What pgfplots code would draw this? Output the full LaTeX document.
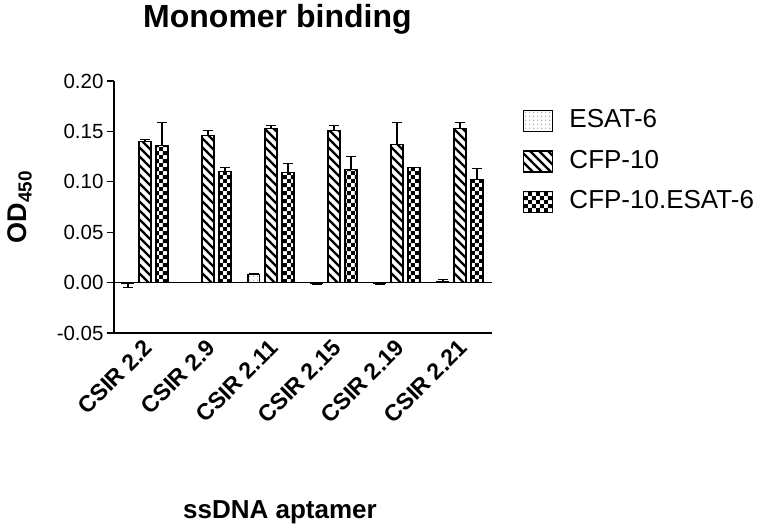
\documentclass[border=0pt]{standalone}
\usepackage{pgfplots}
\pgfplotsset{compat=1.18}
\usepackage{fontspec}
\setmainfont{Liberation Sans}
\usetikzlibrary{patterns}

\pgfdeclarepatternformonly{nwthick}{\pgfqpoint{-1bp}{-1bp}}{\pgfqpoint{10bp}{10bp}}{\pgfqpoint{9bp}{9bp}}{
  \pgfsetlinewidth{2.3bp}
  \pgfpathmoveto{\pgfqpoint{-1bp}{10bp}}
  \pgfpathlineto{\pgfqpoint{10bp}{-1bp}}
  \pgfusepath{stroke}
}
\pgfdeclarepatternformonly{checker}{\pgfqpoint{0bp}{0bp}}{\pgfqpoint{8.4bp}{8.4bp}}{\pgfqpoint{8.4bp}{8.4bp}}{
  \pgfpathrectangle{\pgfqpoint{0bp}{0bp}}{\pgfqpoint{4.2bp}{4.2bp}}
  \pgfpathrectangle{\pgfqpoint{4.2bp}{4.2bp}}{\pgfqpoint{4.2bp}{4.2bp}}
  \pgfusepath{fill}
}
\pgfdeclarepatternformonly{sparsedots}{\pgfqpoint{0bp}{0bp}}{\pgfqpoint{4bp}{4bp}}{\pgfqpoint{4bp}{4bp}}{
  \pgfpathrectangle{\pgfqpoint{1.5bp}{1.5bp}}{\pgfqpoint{1bp}{1bp}}
  \pgfusepath{fill}
}

\begin{document}
\begin{tikzpicture}
\useasboundingbox (-114bp,-197bp) rectangle (646bp,333bp);
\begin{axis}[
  at={(0,0)}, anchor=south west,
  scale only axis, width=378bp, height=252bp,
  xmin=-0.49, xmax=5.51, ymin=-0.05, ymax=0.20,
  axis x line*=bottom, axis y line*=left,
  axis line style={line width=1.3bp, -},
  ytick={-0.05,0,0.05,0.10,0.15,0.20},
  xtick={0,...,5},
  xticklabels={CSIR 2.2, CSIR 2.9, CSIR 2.11, CSIR 2.15, CSIR 2.19, CSIR 2.21},
  x tick style={draw=none},
  y tick style={line width=1.3bp, black},
  tick align=outside, major tick length=7bp,
  /pgf/number format/assume math mode=true,
  yticklabel style={/pgf/number format/fixed, /pgf/number format/fixed zerofill,
    /pgf/number format/precision=2, font=\fontsize{20.5bp}{24bp}\selectfont},
  xticklabel style={rotate=45, anchor=east, xshift=3bp, yshift=-5bp, font=\bfseries\fontsize{23bp}{27bp}\selectfont},
  title={Monomer binding},
  title style={font=\bfseries\fontsize{32bp}{38bp}\selectfont, at={(axis description cs:0.0767,1.19)}, anchor=base west, inner sep=0pt},
  xlabel={ssDNA aptamer},
  xlabel style={font=\bfseries\fontsize{26bp}{30bp}\selectfont, at={(axis description cs:0.1825,-0.738)}, anchor=base west, inner sep=0pt},
  ylabel={OD\textsubscript{450}},
  ylabel style={font=\bfseries\fontsize{27bp}{31bp}\selectfont, at={(axis description cs:-0.249,0.5)}, anchor=center},
  legend style={draw=none, fill=none, at={(axis description cs:1.082,0.885)}, anchor=north west,
    inner sep=0pt, row sep=18bp, font=\fontsize{26bp}{30bp}\selectfont,
    nodes={inner sep=0pt, text height=17bp, text depth=4bp}},
  legend cell align=left,
  mylegend/.style={legend image code/.code={
    \draw[##1, line width=1.3bp] (0bp,-10.5bp) rectangle (29bp,10.5bp);
    \path (45bp,0bp);}},
  ebar/.style={error bars/.cd, y dir=both, y explicit,
    error bar style={line width=1.3bp, black},
    error mark options={rotate=90, mark size=5bp, line width=1.3bp, black}},
]
\addplot[black, line width=1.3bp, forget plot] coordinates {(-0.49,0) (5.51,0)};

% ESAT-6
\addplot[ybar, bar width=0.19, bar shift=0, draw=black, line width=1.3bp,
  pattern=sparsedots, pattern color=gray, mylegend, ebar] coordinates {
  (-0.27,-0.001) += (0,0) -= (0,0.004)
  (0.73,0.000) += (0,0) -= (0,0)
  (1.73,0.008) += (0,0.0005) -= (0,0)
  (2.73,-0.001) += (0,0) -= (0,0.0005)
  (3.73,-0.001) += (0,0) -= (0,0.0005)
  (4.73,0.001) += (0,0.002) -= (0,0)
};
% CFP-10
\addplot[ybar, bar width=0.19, bar shift=0, draw=black, line width=1.3bp,
  pattern=nwthick, pattern color=black, mylegend, ebar] coordinates {
  (0,0.140) += (0,0.002) -= (0,0)
  (1,0.146) += (0,0.005) -= (0,0)
  (2,0.153) += (0,0.003) -= (0,0)
  (3,0.151) += (0,0.005) -= (0,0)
  (4,0.137) += (0,0.022) -= (0,0)
  (5,0.153) += (0,0.006) -= (0,0)
};
% CFP-10.ESAT-6
\addplot[ybar, bar width=0.19, bar shift=0, draw=black, line width=1.3bp,
  pattern=checker, pattern color=black, mylegend, ebar] coordinates {
  (0.27,0.136) += (0,0.023) -= (0,0)
  (1.27,0.110) += (0,0.004) -= (0,0)
  (2.27,0.109) += (0,0.009) -= (0,0)
  (3.27,0.112) += (0,0.013) -= (0,0)
  (4.27,0.114) += (0,0.0005) -= (0,0)
  (5.27,0.102) += (0,0.011) -= (0,0)
};
\legend{ESAT-6, CFP-10, CFP-10.ESAT-6}
\end{axis}
\end{tikzpicture}
\end{document}
